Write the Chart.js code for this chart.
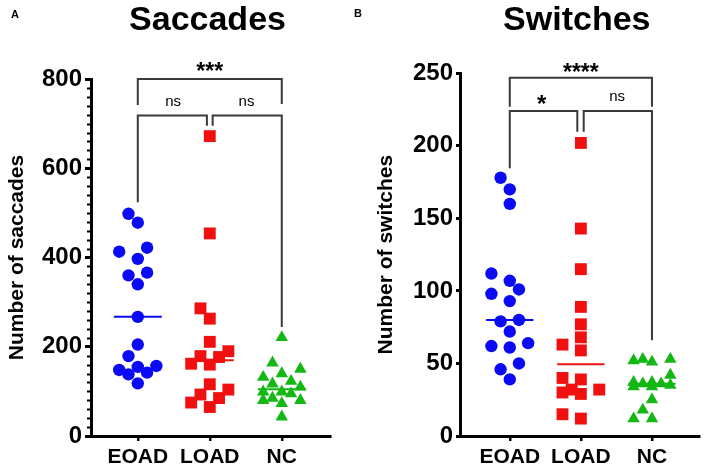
<!DOCTYPE html>
<html>
<head>
<meta charset="utf-8">
<script src="https://cdn.jsdelivr.net/npm/chart.js@4.4.1/dist/chart.umd.min.js"></script>
<style>
  html, body { margin: 0; padding: 0; background: #fff; }
  #wrap { position: relative; width: 708px; height: 468px; overflow: hidden; }
  canvas { position: absolute; top: 0; }
</style>
</head>
<body>
<div id="wrap">
  <canvas id="saccChart" width="354" height="468" style="left:0"></canvas>
  <canvas id="switchChart" width="354" height="468" style="left:354px"></canvas>
</div>
<script>
const categories = ["EOAD", "LOAD", "NC"];

// panel A - number of saccades per subject
const eoadSaccades = [498, 478, 422, 413, 397, 366, 360, 340, 267, 205, 179, 157, 155, 148, 142, 138, 118];
const loadSaccades = [672, 454, 286, 263, 211, 190, 179, 177, 162, 160, 116, 104, 93, 85, 75, 65];
const ncSaccades = [221, 164, 150, 140, 132, 123, 117, 110, 99, 99, 95, 85, 80, 80, 73, 43];
const saccadeTicks = [0, 200, 400, 600, 800];

// panel B - number of switches per subject
const eoadSwitches = [178, 170, 160, 112, 107, 101, 98, 93, 80, 79, 72, 64, 62, 61, 50, 46, 39];
const loadSwitches = [202, 143, 115, 89, 77, 68, 63, 59, 40, 39, 32, 32, 30, 29, 15, 12];
const ncSwitches = [53, 52, 53, 51, 42, 37, 36, 35, 37, 34, 36, 34, 25, 18, 12, 12];
const switchTicks = [0, 50, 100, 150, 200, 250];

const FONT = "'Liberation Sans', Arial, Helvetica, sans-serif";
const groupStyles = [
  { color: "#0a0af5", shape: "circle", radius: 6.2 },
  { color: "#f01010", shape: "rect", radius: 8.4 },
  { color: "#14b814", shape: "triangle", radius: 7.2 },
];

function median(arr) {
  const s = [...arr].sort((a, b) => a - b);
  const m = Math.floor(s.length / 2);
  return s.length % 2 ? s[m] : (s[m - 1] + s[m]) / 2;
}

// simple beeswarm: slots ~9px apart, keep points ~12px apart when possible
function swarmOffsets(values, pxPerUnit) {
  const stepPx = 9.3, gapPx = 12, maxSlot = 2, catPx = 72;
  const placed = [];
  const offsets = [];
  const order = values.map((v, i) => i).sort((a, b) => values[a] - values[b]);
  order.forEach((i) => {
    const yPx = values[i] * pxPerUnit;
    let best = 0, bestDist = -1;
    for (let k = 0; k <= 2 * maxSlot; k++) {
      const slot = k % 2 ? -Math.ceil(k / 2) : k / 2;
      const xPx = slot * stepPx;
      const d = Math.min(Infinity, ...placed.map((p) => Math.hypot(p.x - xPx, p.y - yPx)));
      if (d >= gapPx) { best = slot; bestDist = d; break; }
      if (d > bestDist) { best = slot; bestDist = d; }
    }
    placed.push({ x: best * stepPx, y: yPx });
    offsets[i] = (best * stepPx) / catPx;
  });
  return offsets;
}

const panels = [
  {
    canvas: "saccChart", letter: "A", letterX: 15, letterY: 15,
    title: "Saccades", yTitle: "Number of saccades",
    groups: [eoadSaccades, loadSaccades, ncSaccades], ticks: saccadeTicks, minorStep: 20,
    xMin: -0.65, xMax: 2.67, top: 79, right: 24, left: 0, axisX: 91, tickPad: 3, tickLen: 6,
    brackets: [
      { y: 800, legs: [[0, 742], [2, 744]] },
      { y: 718, legs: [[0, 524], [0.96, 695]] },
      { y: 718, legs: [[1.04, 695], [2, 244]] },
    ],
    marks: [
      { text: "***", x: 1, y: 829, size: 23 },
      { text: "ns", x: 0.49, y: 748, size: 15 },
      { text: "ns", x: 1.51, y: 748, size: 15 },
    ],
  },
  {
    canvas: "switchChart", letter: "B", letterX: 4, letterY: 14,
    title: "Switches", yTitle: "Number of switches",
    groups: [eoadSwitches, loadSwitches, ncSwitches], ticks: switchTicks, minorStep: 0,
    xMin: -0.7, xMax: 2.67, top: 73.3, right: 5, left: 15, axisX: 106, tickPad: 3, tickLen: 4,
    brackets: [
      { y: 247, legs: [[0, 227], [2, 227]] },
      { y: 224, legs: [[0, 184.5], [0.95, 209.7]] },
      { y: 224, legs: [[1.04, 209.7], [2, 66]] },
    ],
    marks: [
      { text: "****", x: 1, y: 254.5, size: 23 },
      { text: "*", x: 0.45, y: 232.7, size: 24 },
      { text: "ns", x: 1.51, y: 233.4, size: 15 },
    ],
  },
];

const AXIS_BOTTOM = 436;

panels.forEach((panel) => {
  const yMax = panel.ticks[panel.ticks.length - 1];
  const pxPerUnit = (AXIS_BOTTOM - panel.top) / yMax;
  const datasets = [];

  panel.groups.forEach((values, i) => {
    const st = groupStyles[i];
    const offs = swarmOffsets(values, pxPerUnit);
    const m = median(values);
    datasets.push({
      data: [{ x: i - 0.333, y: m }, { x: i + 0.333, y: m }],
      showLine: true,
      borderColor: st.color,
      borderWidth: 2,
      pointRadius: 0,
      order: 2,
      clip: false,
    });
    datasets.push({
      data: values.map((v, j) => ({ x: i + offs[j], y: v })),
      pointStyle: st.shape,
      pointRadius: st.radius,
      backgroundColor: st.color,
      borderWidth: 0,
      order: 1,
      clip: false,
    });
  });

  const decorations = {
    id: "decorations",
    afterDraw(chart) {
      const ctx = chart.ctx;
      const xs = chart.scales.x;
      const ys = chart.scales.y;
      const area = chart.chartArea;
      ctx.save();
      ctx.fillStyle = "#000";

      // minor ticks on y axis
      if (panel.minorStep) {
        ctx.strokeStyle = "#000";
        ctx.lineWidth = 2;
        const major = panel.ticks[1] - panel.ticks[0];
        for (let v = 0; v <= yMax; v += panel.minorStep) {
          if (v % major === 0) continue;
          const py = Math.round(ys.getPixelForValue(v)) + 0.5;
          ctx.beginPath();
          ctx.moveTo(area.left - 4, py);
          ctx.lineTo(area.left, py);
          ctx.stroke();
        }
      }

      // panel title and letter
      ctx.textAlign = "center";
      ctx.textBaseline = "alphabetic";
      ctx.font = "bold 34px " + FONT;
      ctx.fillText(panel.title, (area.left + area.right) / 2 - 3, 29.5);
      ctx.font = "bold 11px " + FONT;
      ctx.textBaseline = "middle";
      ctx.fillText(panel.letter, panel.letterX, panel.letterY);

      // significance brackets
      ctx.strokeStyle = "#3a3a3a";
      ctx.lineWidth = 2;
      panel.brackets.forEach((b) => {
        const [a, c] = b.legs;
        ctx.beginPath();
        ctx.moveTo(xs.getPixelForValue(a[0]), ys.getPixelForValue(a[1]));
        ctx.lineTo(xs.getPixelForValue(a[0]), ys.getPixelForValue(b.y));
        ctx.lineTo(xs.getPixelForValue(c[0]), ys.getPixelForValue(b.y));
        ctx.lineTo(xs.getPixelForValue(c[0]), ys.getPixelForValue(c[1]));
        ctx.stroke();
      });

      ctx.textBaseline = "alphabetic";
      panel.marks.forEach((mk) => {
        const star = mk.text.includes("*");
        ctx.font = (star ? "bold " : "") + mk.size + "px " + FONT;
        const shift = star ? 0.56 * mk.size : 0.27 * mk.size;
        ctx.fillText(mk.text, xs.getPixelForValue(mk.x), ys.getPixelForValue(mk.y) + shift);
      });
      ctx.restore();
    },
  };

  new Chart(panel.canvas, {
    type: "scatter",
    data: { datasets: datasets },
    plugins: [decorations],
    options: {
      responsive: false,
      animation: false,
      events: [],
      layout: { padding: { top: panel.top, right: panel.right, left: panel.left, bottom: 0 } },
      plugins: { legend: { display: false }, tooltip: { enabled: false } },
      scales: {
        x: {
          type: "linear",
          min: panel.xMin,
          max: panel.xMax,
          afterBuildTicks: (s) => { s.ticks = categories.map((c, i) => ({ value: i })); },
          afterFit: (s) => { s.height = 468 - AXIS_BOTTOM; },
          ticks: {
            callback: (v) => categories[v],
            color: "#000",
            font: { family: FONT, size: 21, weight: "bold" },
            padding: 4,
            maxRotation: 0,
            autoSkip: false,
          },
          grid: { drawOnChartArea: false, tickLength: 5, color: "#000", lineWidth: 2.5 },
          border: { color: "#000", width: 3 },
        },
        y: {
          min: 0,
          max: yMax,
          afterBuildTicks: (s) => { s.ticks = panel.ticks.map((v) => ({ value: v })); },
          afterFit: (s) => { s.width = panel.axisX - panel.left; },
          ticks: {
            color: "#000",
            font: { family: FONT, size: 24, weight: "bold" },
            padding: panel.tickPad,
          },
          grid: { drawOnChartArea: false, tickLength: panel.tickLen, color: "#000", lineWidth: 3 },
          border: { color: "#000", width: 3 },
          title: {
            display: true,
            text: panel.yTitle,
            color: "#000",
            font: { family: FONT, size: 21, weight: "bold" },
            padding: { top: 5, bottom: 0 },
          },
        },
      },
    },
  });
});
</script>
</body>
</html>
